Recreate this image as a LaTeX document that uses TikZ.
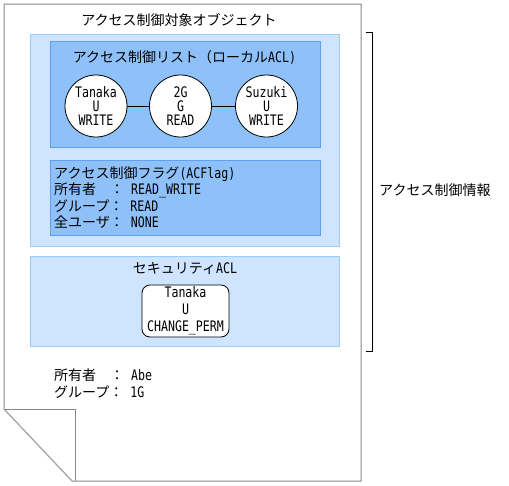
\documentclass[tikz,border=0pt]{standalone}
\usepackage{fontspec}
\setmainfont[FakeStretch=0.8]{DejaVu Sans Mono}
\newfontfamily\jp{Noto Sans CJK JP}
\definecolor{pagegray}{RGB}{136,136,136}
\definecolor{lightfill}{RGB}{206,228,255}
\definecolor{lightborder}{RGB}{153,204,255}
\definecolor{midfill}{RGB}{142,193,249}
\definecolor{midborder}{RGB}{96,160,236}
\tikzset{
  jpt/.style={font=\fontsize{14}{16.5}\selectfont\jp, inner sep=0pt},
  aclnode/.style={circle, draw=black, fill=white, line width=0.8pt, minimum size=62pt, inner sep=0pt, align=center, font=\fontsize{14.5}{14}\selectfont},
  lightbox/.style={fill=lightfill, draw=lightborder, line width=0.9pt},
  midbox/.style={fill=midfill, draw=midborder, line width=0.9pt},
  link/.style={draw=black, line width=0.8pt},
}
\newcommand{\mo}[1]{{\fontsize{14.5}{16.5}\selectfont\rmfamily #1}}
\begin{document}
\begin{tikzpicture}[x=1pt,y=-1pt]
\useasboundingbox (0,0) rectangle (509,485);
% page with folded corner
\draw[pagegray, line width=1pt, fill=white] (4,4) -- (361,4) -- (361,481) -- (72,481) -- (4,409) -- cycle;
\draw[pagegray!70, line width=0.8pt] (4,409) -- (72,481);
\draw[pagegray, line width=1pt] (4,409) -- (75,409) -- (75,481);
\node[jpt] (title) at (179,20) {アクセス制御対象オブジェクト};
% access control information
\draw[lightbox] (30,34) rectangle (339,246);
\draw[midbox] (50,41) rectangle (320,147);
\node[jpt] (listtitle) at (184.5,57) {アクセス制御リスト（ローカル\mo{ACL)}};
\node[aclnode] (c1) at (96,106) {Tanaka\\U\\WRITE};
\node[aclnode] (c2) at (180.5,106) {2G\\G\\READ};
\node[aclnode] (c3) at (266.5,106) {Suzuki\\U\\WRITE};
\draw[link] (c1) -- (c2);
\draw[link] (c2) -- (c3);
\draw[midbox] (50,160) rectangle (320,235);
\node[jpt, anchor=west, align=left] (flag) at (54,197.5) {アクセス制御フラグ\mo{(ACFlag)}\\所有者　：\mo{ READ\_WRITE}\\グループ：\mo{ READ}\\全ユーザ：\mo{ NONE}};
% security ACL
\draw[lightbox] (30,256) rectangle (339,346);
\node[jpt] (sectitle) at (185,269) {セキュリティ\mo{ACL}};
\node[draw=black, fill=white, rounded corners=8pt, line width=0.8pt, minimum width=87pt, minimum height=52pt, inner sep=0pt, align=center, font=\fontsize{14.5}{17}\selectfont] (sec) at (185.5,311) {Tanaka\\U\\CHANGE\_PERM};
% owner info
\node[jpt, anchor=west, align=left] (owner) at (54,383.5) {所有者　：\mo{ Abe}\\グループ：\mo{ 1G}};
% bracket
\coordinate (bt) at (366,32);
\coordinate (bb) at (366,351);
\draw[black, line width=1pt] (bt) -- ++(6,0) |- (bb);
\node[jpt, anchor=west] (info) at (379,190) {アクセス制御情報};
\end{tikzpicture}
\end{document}
